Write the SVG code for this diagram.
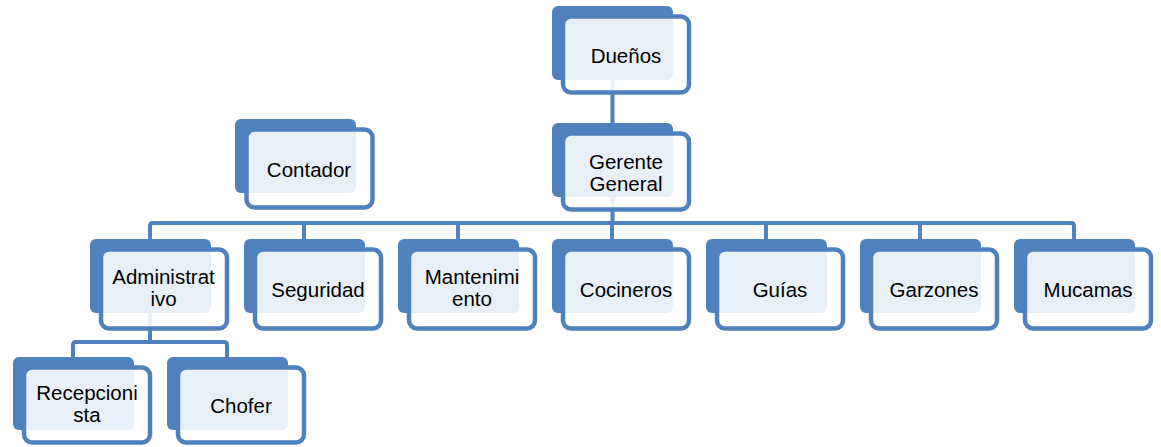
<svg xmlns="http://www.w3.org/2000/svg" width="1161" height="447" viewBox="0 0 1161 447">
<style>
.bk{fill:#4f81bd;}
.fr{fill:#ffffff;fill-opacity:0.87;stroke:#4f81bd;stroke-width:4.5;}
.t{font-family:"Liberation Sans",Arial,sans-serif;font-size:20.5px;fill:#000;text-anchor:middle;}
.c{fill:none;stroke:#4f81bd;stroke-width:4;stroke-linejoin:round;}
</style>
<rect width="1161" height="447" fill="#ffffff"/>
<g id="connectors">
<path class="c" d="M612.5,80 V123"/>
<path class="c" d="M612.5,197 V223"/>
<path class="c" d="M150,239 V226 Q150,223 153,223 H1071 Q1074,223 1074,226 V239"/>
<path class="c" d="M304,223 V239 M458,223 V239 M612,223 V239 M766,223 V239 M920,223 V239"/>
<path class="c" d="M150,313 V342"/>
<path class="c" d="M73,357 V345 Q73,342 76,342 H224 Q227,342 227,345 V357"/>
</g>
<g id="duenos">
<rect class="bk" x="552" y="6" width="121" height="74" rx="6"/>
<rect class="fr" x="563" y="16.5" width="126" height="76" rx="8"/>
<text class="t" x="626" y="63">Dueños</text>
</g>
<g id="gerente">
<rect class="bk" x="552" y="123" width="121" height="74" rx="6"/>
<rect class="fr" x="563" y="133.5" width="126" height="76" rx="8"/>
<text class="t" x="626" y="169">Gerente</text>
<text class="t" x="626" y="191">General</text>
</g>
<g id="contador">
<rect class="bk" x="235" y="119" width="121" height="74" rx="6"/>
<rect class="fr" x="246.5" y="129.5" width="126" height="78" rx="8"/>
<text class="t" x="309" y="177">Contador</text>
</g>
<g id="administrativo">
<rect class="bk" x="90" y="239" width="121" height="74" rx="6"/>
<rect class="fr" x="101" y="249.5" width="126" height="79" rx="8"/>
<text class="t" x="163.5" y="284">Administrat</text>
<text class="t" x="163.5" y="306">ivo</text>
</g>
<g id="seguridad">
<rect class="bk" x="244" y="239" width="121" height="74" rx="6"/>
<rect class="fr" x="255" y="249.5" width="126" height="79" rx="8"/>
<text class="t" x="318" y="297">Seguridad</text>
</g>
<g id="mantenimiento">
<rect class="bk" x="398" y="239" width="121" height="74" rx="6"/>
<rect class="fr" x="409" y="249.5" width="126" height="79" rx="8"/>
<text class="t" x="472" y="284">Mantenimi</text>
<text class="t" x="472" y="306">ento</text>
</g>
<g id="cocineros">
<rect class="bk" x="552" y="239" width="121" height="74" rx="6"/>
<rect class="fr" x="563" y="249.5" width="126" height="79" rx="8"/>
<text class="t" x="626" y="297">Cocineros</text>
</g>
<g id="guias">
<rect class="bk" x="706" y="239" width="121" height="74" rx="6"/>
<rect class="fr" x="717" y="249.5" width="126" height="79" rx="8"/>
<text class="t" x="780" y="297">Guías</text>
</g>
<g id="garzones">
<rect class="bk" x="860" y="239" width="121" height="74" rx="6"/>
<rect class="fr" x="871" y="249.5" width="126" height="79" rx="8"/>
<text class="t" x="934" y="297">Garzones</text>
</g>
<g id="mucamas">
<rect class="bk" x="1014" y="239" width="121" height="74" rx="6"/>
<rect class="fr" x="1025" y="249.5" width="126" height="79" rx="8"/>
<text class="t" x="1088" y="297">Mucamas</text>
</g>
<g id="recepcionista">
<rect class="bk" x="13" y="357" width="121" height="73" rx="6"/>
<rect class="fr" x="24" y="367.5" width="126" height="75" rx="8"/>
<text class="t" x="87" y="400">Recepcioni</text>
<text class="t" x="87" y="422">sta</text>
</g>
<g id="chofer">
<rect class="bk" x="167" y="357" width="121" height="73" rx="6"/>
<rect class="fr" x="178" y="367.5" width="126" height="75" rx="8"/>
<text class="t" x="241" y="413">Chofer</text>
</g>
</svg>
